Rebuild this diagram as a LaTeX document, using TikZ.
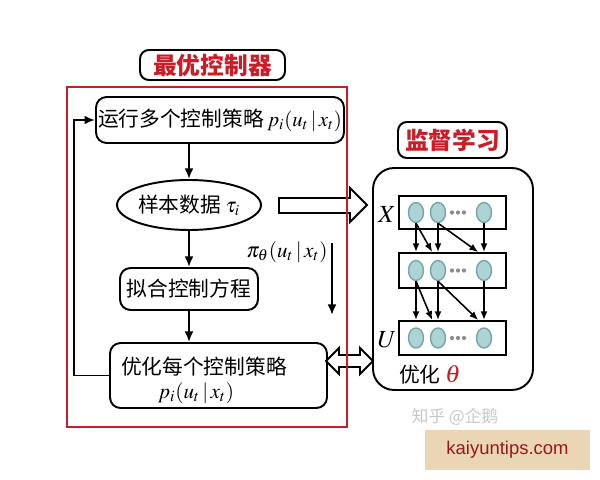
\documentclass[tikz,border=0pt]{standalone}
\usepackage{mathptmx}
\usepackage{fontspec}
\setmainfont{Liberation Serif}
\newfontfamily\cjk{Noto Sans CJK SC}
\newfontfamily\wmfont{Liberation Sans}
\usetikzlibrary{positioning}
\usetikzlibrary{shapes.geometric, arrows.meta}
\definecolor{ctrlred}{RGB}{200,30,40}
\definecolor{unitfill}{RGB}{172,212,212}
\definecolor{unitdraw}{RGB}{120,165,165}
\definecolor{wmtan}{RGB}{234,214,180}
\definecolor{wmred}{RGB}{150,25,25}

\begin{document}
\begin{tikzpicture}[x=0.02cm,y=-0.02cm,
  box/.style={draw,line width=1.1pt,rounded corners=6pt,inner sep=0pt,font=\cjk\fontsize{11.8}{14}\selectfont},
  arr/.style={line width=1.1pt,-{Latex[length=6pt,width=5pt]}},
  tag/.style={draw,line width=1.1pt,rounded corners=5pt,inner sep=0pt,text=ctrlred,font=\cjk\bfseries\fontsize{13.5}{15}\selectfont},
  unit/.style={ellipse,draw=unitdraw,fill=unitfill,line width=0.8pt,minimum width=0.3cm,minimum height=0.4cm,inner sep=0pt},
  layer/.style={draw,line width=1.1pt,minimum width=2.14cm,inner sep=0pt},
  link/.style={line width=0.9pt,-{Latex[length=5pt,width=4pt]}},
  hollow/.style={draw,fill=white,line width=1.1pt,line join=miter}]
\useasboundingbox (0,0) rectangle (600,480);

% optimal controller
\node[tag,minimum width=2.9cm,minimum height=0.6cm] (ctrl) at (212.5,65) {最优控制器};
\node[box,minimum width=4.96cm,minimum height=0.92cm] (run) at (220,120) {运行多个控制策略\,$p_i(u_t\,|\,x_t)$};
\node[ellipse,draw,line width=1.1pt,minimum width=2.64cm,minimum height=1cm,inner sep=0pt,font=\cjk\fontsize{11.8}{14}\selectfont] (sample) at (189,205) {样本数据\ $\tau_i$};
\node[box,minimum width=2.76cm,minimum height=0.84cm] (fit) at (189,289) {拟合控制方程};
\node[box,minimum width=4.34cm,minimum height=1.3cm] (opt) at (218.5,375.5) {};
\node[font=\cjk\fontsize{11.8}{14}\selectfont] (optt) at (204,367) {优化每个控制策略};
\node[font=\fontsize{12}{14}\selectfont] (optp) at (196,393) {$p_i(u_t\,|\,x_t)$};

\draw[arr] (sample.north |- run.south) -- (sample.north);
\draw[arr] (sample) -- (fit);
\draw[arr] (fit) -- (fit |- opt.north);
\draw[arr] (opt.west) -- ++(-35,0) |- (run.west);

\node[font=\fontsize{12}{14}\selectfont] (pilabel) at (287,252) {$\pi_\theta(u_t\,|\,x_t)$};
\coordinate (pitop) at (332,243);
\coordinate (pibot) at (332,315);
\draw[arr] (pitop) -- (pibot);

\draw[hollow] (279,198) -- (350,198) -- (350,188) -- (367,205) -- (350,222) -- (350,213) -- (279,213) -- cycle;
\draw[hollow] (326,361) -- (339,348) -- (339,355) -- (360,355) -- (360,348) -- (373,361) -- (360,374) -- (360,367) -- (339,367) -- (339,374) -- cycle;

\draw[ctrlred,line width=1.2pt] (67,87) rectangle (347,427);

% supervised learning
\node[tag,minimum width=2.18cm,minimum height=0.72cm] (sup) at (452.5,140) {监督学习};
\node[draw,line width=1.1pt,rounded corners=12pt,minimum width=3.2cm,minimum height=4.44cm] (net) at (453,279) {};
\node[layer,minimum height=0.66cm] (l1) at (452.5,212.5) {};
\node[layer,minimum height=0.7cm] (l2) at (452.5,270.5) {};
\node[layer,minimum height=0.68cm] (l3) at (452.5,338) {};
\foreach \l/\y in {1/212.5,2/270.5,3/338} {
  \node[unit] (u\l1) at (416,\y) {};
  \node[unit] (u\l2) at (438,\y) {};
  \node[unit] (u\l3) at (484,\y) {};
  \foreach \d in {452,458,464}
    \fill[black!45] (\d,\y) circle (1.2pt);
}
\foreach \l/\m in {1/2,2/3} {
  \draw[link] (u\l1.south) -- (u\l1.south |- l\m.north);
  \draw[link] (u\l1.south) -- (u\m2.north west |- l\m.north);
  \draw[link] (u\l2.south) -- (u\l2.south |- l\m.north);
  \draw[link] (u\l2.south) -- (u\m3.north west |- l\m.north);
  \draw[link] (u\l3.south) -- (u\l3.south |- l\m.north);
}
\node[font=\fontsize{14}{16}\selectfont] (xin) at (387,215) {$X$};
\node[font=\fontsize{14}{16}\selectfont] (uout) at (387,340) {$U$};
\node[font=\cjk\fontsize{11.8}{14}\selectfont] (train) at (430,375) {优化 \textcolor{ctrlred}{\fontsize{14}{16}\selectfont$\theta$}};

% watermark
\node[text=black!22,font=\cjk\fontsize{9.5}{11}\selectfont] (zhihu) at (455,417) {知乎 @企鹅};
\node[fill=wmtan,minimum width=3.3cm,minimum height=0.8cm,text=wmred,font=\wmfont\fontsize{10.5}{12}\selectfont] (site) at (507.5,450) {kaiyuntips.com};

\end{tikzpicture}
\end{document}
